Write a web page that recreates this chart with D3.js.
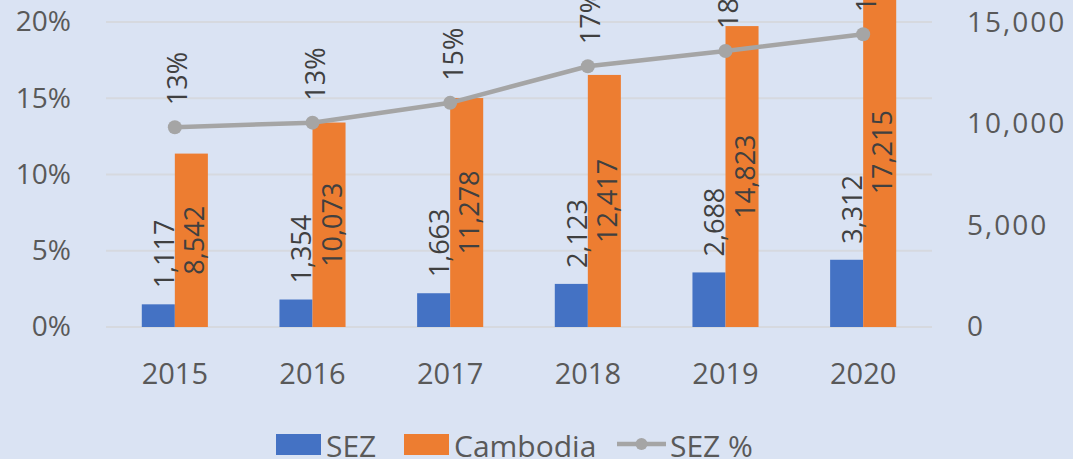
<!DOCTYPE html>
<html>
<head>
<meta charset="utf-8">
<script src="https://cdn.jsdelivr.net/npm/d3@7"></script>
<style>
  html, body { margin: 0; padding: 0; background: #dae3f3; }
  svg { display: block; font-family: "Open Sans", "Noto Sans", sans-serif; }
</style>
</head>
<body>
<svg width="1073" height="459"></svg>
<script>
const years = ['2015', '2016', '2017', '2018', '2019', '2020'];
const sez = [1117, 1354, 1663, 2123, 2688, 3312];
const cambodia = [8542, 10073, 11278, 12417, 14823, 17215];
const sezPct = [13.1, 13.4, 14.7, 17.1, 18.1, 19.2];
const pctLabels = ['13%', '13%', '15%', '17%', '18%', '19%'];
const leftTicks = [0, 5, 10, 15, 20];
const rightTicks = [0, 5000, 10000, 15000];

const svg = d3.select('svg');
const width = +svg.attr('width');
const height = +svg.attr('height');

// plot area (top of the chart is cropped in the picture)
const plotLeft = 106, plotRight = 932;
const y0 = 327, yTop = 22;

svg.append('rect').attr('width', width).attr('height', height).attr('fill', '#dae3f3');

const data = years.map((y, i) => ({year: y, sez: sez[i], cam: cambodia[i], pct: sezPct[i], lab: pctLabels[i]}));

const xScale = d3.scaleBand().domain(years).range([plotLeft, plotRight]);
const barW = xScale.bandwidth() * 0.24;
const cx = d => xScale(d.year) + xScale.bandwidth() / 2;

const yLeft = d3.scaleLinear().domain([0, 20]).range([y0, yTop]);
const yRight = d3.scaleLinear().domain([0, 15000]).range([y0, yTop + 0.5]);

const g = svg.append('g');

// gridlines
g.selectAll('.grid').data(leftTicks).enter().append('line')
    .attr('x1', plotLeft).attr('x2', plotRight)
    .attr('y1', d => yLeft(d)).attr('y2', d => yLeft(d))
    .attr('stroke', '#d6d9df').attr('stroke-width', 2);

// left axis labels
const yAxisL = d3.axisLeft(yLeft).tickValues(leftTicks).tickSize(0).tickPadding(0)
    .tickFormat(d => d + '%');
const yAxisLG = g.append('g').attr('transform', 'translate(71,0)').call(yAxisL);
yAxisLG.select('.domain').remove();

// right axis labels
const yAxisR = d3.axisRight(yRight).tickValues(rightTicks).tickSize(0).tickPadding(0)
    .tickFormat(d3.format(','));
const yAxisRG = g.append('g').attr('transform', 'translate(967,0)').call(yAxisR);
yAxisRG.select('.domain').remove();

// x axis labels
const xAxis = d3.axisBottom(xScale).tickSize(0).tickPadding(0);
const xAxisG = g.append('g').attr('transform', `translate(0, ${y0 + 36})`).call(xAxis);
xAxisG.select('.domain').remove();

svg.selectAll('.tick text')
    .attr('fill', '#595959')
    .style('font-size', '28px')
    .style('font-family', '"Open Sans", sans-serif');
yAxisRG.selectAll('.tick text').style('letter-spacing', '2px');
xAxisG.selectAll('.tick text').style('font-size', '29px');

// bars
g.selectAll('.sez').data(data).enter().append('rect')
    .attr('x', d => cx(d) - barW)
    .attr('width', barW)
    .attr('y', d => yRight(d.sez))
    .attr('height', d => y0 - yRight(d.sez))
    .attr('fill', '#4472c4');

g.selectAll('.cam').data(data).enter().append('rect')
    .attr('x', d => cx(d))
    .attr('width', barW)
    .attr('y', d => yRight(d.cam))
    .attr('height', d => y0 - yRight(d.cam))
    .attr('fill', '#ed7d31');

// line
const line = d3.line().x(d => cx(d)).y(d => yLeft(d.pct));
g.append('path').datum(data)
    .attr('d', line)
    .attr('fill', 'none')
    .attr('stroke', '#a5a5a5')
    .attr('stroke-width', 4.5);

g.selectAll('.pt').data(data).enter().append('circle')
    .attr('cx', d => cx(d))
    .attr('cy', d => yLeft(d.pct))
    .attr('r', 7)
    .attr('fill', '#a5a5a5');

// data labels (rotated)
const labelStyle = sel => sel
    .attr('fill', '#404040')
    .style('font-size', '27px')
    .attr('dominant-baseline', 'central');

g.selectAll('.sezLab').data(data).enter().append('text')
    .attr('transform', d => `translate(${cx(d) - barW / 2 + 5}, ${yRight(d.sez) - 16}) rotate(-90)`)
    .attr('text-anchor', 'start')
    .call(labelStyle)
    .text(d => d3.format(',')(d.sez));

g.selectAll('.camLab').data(data).enter().append('text')
    .attr('transform', d => `translate(${cx(d) + barW / 2 + 2}, ${(yRight(d.cam) + y0) / 2}) rotate(-90)`)
    .attr('text-anchor', 'middle')
    .call(labelStyle)
    .text(d => d3.format(',')(d.cam));

g.selectAll('.pctLab').data(data).enter().append('text')
    .attr('transform', d => `translate(${cx(d) + 2}, ${yLeft(d.pct) - 22}) rotate(-90)`)
    .attr('text-anchor', 'start')
    .call(labelStyle)
    .text(d => d.lab);

// legend
const legend = svg.append('g').attr('transform', 'translate(0, 445)');
legend.append('rect').attr('x', 276).attr('y', -11).attr('width', 45).attr('height', 21).attr('fill', '#4472c4');
legend.append('text').attr('x', 326).attr('y', 0).text('SEZ');
legend.append('rect').attr('x', 404).attr('y', -11).attr('width', 45).attr('height', 21).attr('fill', '#ed7d31');
legend.append('text').attr('x', 454).attr('y', 0).text('Cambodia');
legend.append('line').attr('x1', 617).attr('x2', 666).attr('y1', -1).attr('y2', -1)
    .attr('stroke', '#a5a5a5').attr('stroke-width', 4.5);
legend.append('circle').attr('cx', 641.5).attr('cy', -1).attr('r', 6).attr('fill', '#a5a5a5');
legend.append('text').attr('x', 670).attr('y', 0).text('SEZ %');
legend.selectAll('text')
    .attr('fill', '#595959')
    .attr('dominant-baseline', 'central')
    .style('font-size', '30px');
</script>
</body>
</html>
